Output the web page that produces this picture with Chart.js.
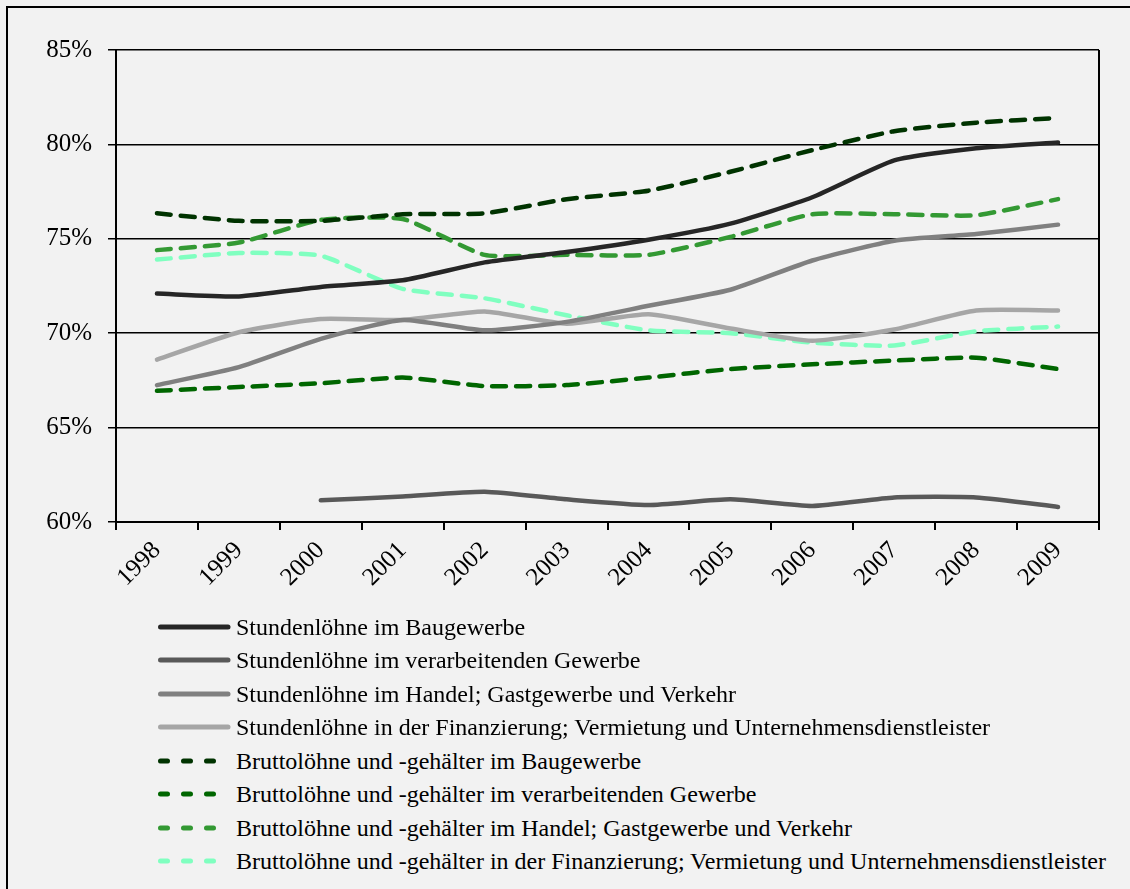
<!DOCTYPE html>
<html lang="de">
<head>
<meta charset="utf-8">
<title>Stundenlöhne und Bruttolöhne</title>
<script src="https://cdn.jsdelivr.net/npm/chart.js@4.4.1/dist/chart.umd.min.js"></script>
<style>
  html, body { margin: 0; padding: 0; background: #F2F2F2; overflow: hidden; }
  body { width: 1130px; height: 889px; position: relative; font-family: "Liberation Serif", "Times New Roman", serif; }
  .frame { position: absolute; left: 6px; top: 6px; width: 1150px; height: 910px; border: 2px solid #000; }
  .chartBox { position: absolute; left: 0; top: 0; width: 1130px; height: 640px; }
  .legend { position: absolute; left: 158px; top: 610px; }
  .row { position: absolute; left: 0; height: 34px; white-space: nowrap; display: flex; align-items: center; }
  .row svg { width: 76px; height: 12px; flex: none; }
  .row span { font-size: 24px; color: #000; margin-left: 2px; line-height: 34px; }
</style>
</head>
<body>
<div class="frame"></div>
<div class="chartBox"><canvas id="chart"></canvas></div>
<div class="legend" id="legend"></div>
<script>
const years = ["1998","1999","2000","2001","2002","2003","2004","2005","2006","2007","2008","2009"];

const stdBau      = [72.1, 71.95, 72.45, 72.8, 73.75, 74.3, 74.95, 75.8, 77.2, 79.15, 79.8, 80.1];
const stdVerarb   = [null, null, 61.15, 61.35, 61.6, 61.2, 60.9, 61.2, 60.85, 61.3, 61.3, 60.8];
const stdHandel   = [67.25, 68.2, 69.7, 70.7, 70.15, 70.6, 71.45, 72.3, 73.85, 74.9, 75.25, 75.75];
const stdFinanz   = [68.6, 70.05, 70.75, 70.7, 71.15, 70.5, 71.0, 70.25, 69.6, 70.2, 71.2, 71.2];
const bruttoBau    = [76.35, 75.95, 75.95, 76.3, 76.35, 77.1, 77.55, 78.55, 79.7, 80.7, 81.15, 81.4];
const bruttoVerarb = [66.95, 67.15, 67.35, 67.65, 67.2, 67.25, 67.65, 68.1, 68.35, 68.55, 68.7, 68.1];
const bruttoHandel = [74.4, 74.8, 76.0, 76.05, 74.15, 74.15, 74.15, 75.1, 76.3, 76.3, 76.25, 77.1];
const bruttoFinanz = [73.9, 74.25, 74.1, 72.35, 71.85, 70.95, 70.15, 70.0, 69.5, 69.35, 70.1, 70.35];

const yTicks = [60, 65, 70, 75, 80, 85];

const series = [
  { label: "Stundenlöhne im Baugewerbe", data: stdBau, color: "#262626", dashed: false },
  { label: "Stundenlöhne im verarbeitenden Gewerbe", data: stdVerarb, color: "#595959", dashed: false },
  { label: "Stundenlöhne im Handel; Gastgewerbe und Verkehr", data: stdHandel, color: "#808080", dashed: false },
  { label: "Stundenlöhne in der Finanzierung; Vermietung und Unternehmensdienstleister", data: stdFinanz, color: "#A6A6A6", dashed: false },
  { label: "Bruttolöhne und -gehälter im Baugewerbe", data: bruttoBau, color: "#003300", dashed: true },
  { label: "Bruttolöhne und -gehälter im verarbeitenden Gewerbe", data: bruttoVerarb, color: "#006600", dashed: true },
  { label: "Bruttolöhne und -gehälter im Handel; Gastgewerbe und Verkehr", data: bruttoHandel, color: "#339933", dashed: true },
  { label: "Bruttolöhne und -gehälter in der Finanzierung; Vermietung und Unternehmensdienstleister", data: bruttoFinanz, color: "#80FFC0", dashed: true }
];

// legend (html, lines as small svg samples)
const legendEl = document.getElementById("legend");
series.forEach((s, i) => {
  const row = document.createElement("div");
  row.className = "row";
  row.style.top = (i * 33.43) + "px";
  const line = s.dashed
    ? `<line x1="2.5" y1="6" x2="64" y2="6" stroke="${s.color}" stroke-width="5" stroke-linecap="round" stroke-dasharray="7 16"/>`
    : `<line x1="2.5" y1="6" x2="70" y2="6" stroke="${s.color}" stroke-width="5" stroke-linecap="round"/>`;
  row.innerHTML = `<svg viewBox="0 0 76 12">${line}</svg><span>${s.label}</span>`;
  legendEl.appendChild(row);
});

const font = { family: "'Liberation Serif', 'Times New Roman', serif", size: 25 };

new Chart(document.getElementById("chart"), {
  type: "line",
  data: {
    labels: years,
    datasets: series.map(s => ({
      label: s.label,
      data: s.data,
      borderColor: s.color,
      backgroundColor: s.color,
      borderWidth: 4.5,
      borderDash: s.dashed ? [14, 10] : [],
      borderCapStyle: "round",
      borderJoinStyle: "round",
      pointRadius: 0,
      pointHoverRadius: 0,
      tension: 0.18,
      fill: false,
      spanGaps: false
    }))
  },
  options: {
    responsive: true,
    maintainAspectRatio: false,
    animation: false,
    layout: { padding: { left: 0, right: 31, top: 50, bottom: 0 } },
    plugins: { legend: { display: false }, tooltip: { enabled: false } },
    scales: {
      x: {
        type: "category",
        offset: true,
        afterFit: s => { s.height = 118; },
        grid: {
          offset: true,
          drawOnChartArea: true,
          drawTicks: true,
          tickLength: 8,
          lineWidth: 2,
          color: ctx => ctx.type === "tick" ? "rgba(0,0,0,0)" : "#000",
          tickColor: "#000"
        },
        border: { display: true, color: "#000", width: 2 },
        ticks: {
          color: "#000",
          font: font,
          autoSkip: false,
          maxRotation: 45,
          minRotation: 45,
          padding: 6,
          labelOffset: 0
        }
      },
      y: {
        min: 60,
        max: 85,
        afterFit: s => { s.width = 116; },
        afterBuildTicks: s => { s.ticks = yTicks.map(v => ({ value: v })); },
        grid: {
          color: "#000",
          lineWidth: 1.5,
          drawTicks: true,
          tickLength: 8,
          tickColor: "#000"
        },
        border: { display: true, color: "#000", width: 2 },
        ticks: {
          color: "#000",
          font: font,
          padding: 16,
          callback: v => v + "%"
        }
      }
    }
  }
});
</script>
</body>
</html>
